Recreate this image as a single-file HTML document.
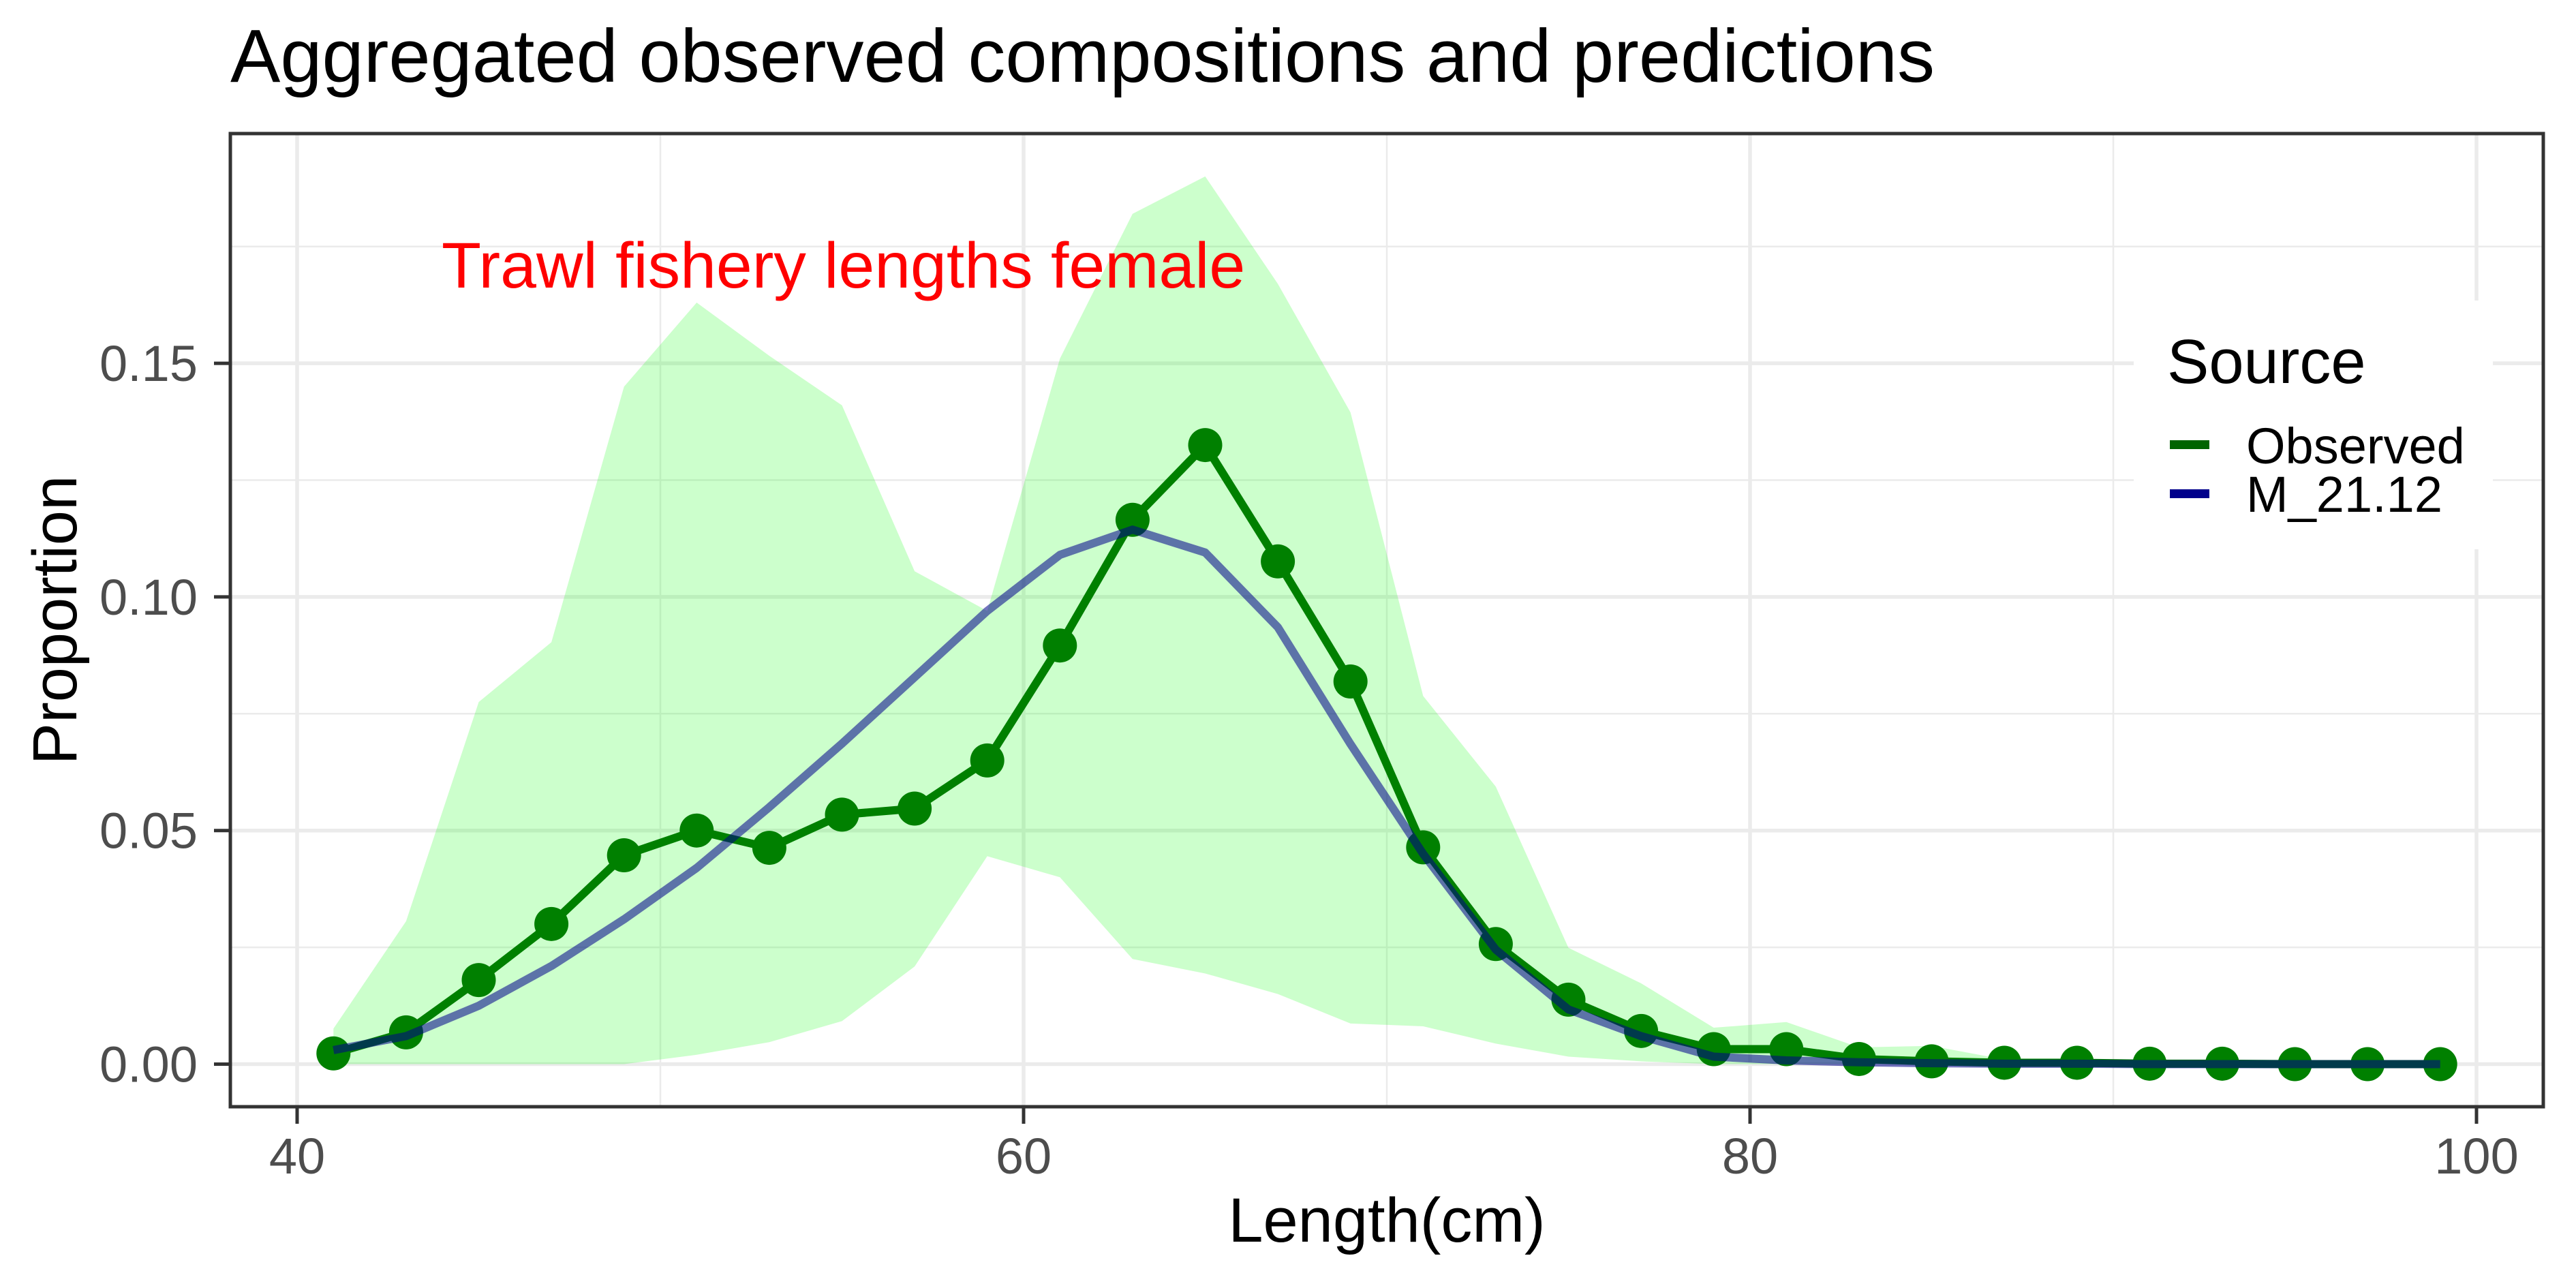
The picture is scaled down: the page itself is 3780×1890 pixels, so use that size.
<!DOCTYPE html>
<html><head><meta charset="utf-8"><style>
html,body{margin:0;padding:0;background:#fff;}
svg{display:block;font-family:"Liberation Sans",Arial,sans-serif;}
</style></head><body>
<svg id="chart" width="3780" height="1890" viewBox="0 0 3780 1890">
<rect x="0" y="0" width="3780" height="1890" fill="#fff"/>
<g id="grid"></g>
<g id="ribbon-g"></g>
<g id="obs-g"></g>
<g id="model-g"></g>
<rect x="338" y="196" width="3394" height="1428" fill="none" stroke="#333" stroke-width="5"/>
<g id="axes"></g>
<text x="338" y="120" font-size="110" fill="#000">Aggregated observed compositions and predictions</text>
<text x="648" y="422" font-size="95" fill="#ff0000">Trawl fishery lengths female</text>
<text x="2035" y="1822" font-size="92" text-anchor="middle" fill="#000">Length(cm)</text>
<text x="0" y="0" font-size="92" text-anchor="middle" fill="#000" transform="translate(112,910) rotate(-90)">Proportion</text>
<g>
<rect x="3131" y="441" width="527" height="365" fill="#fff"/>
<text x="3180" y="562" font-size="92" fill="#000">Source</text>
<rect x="3184" y="646" width="58" height="13" fill="#006400"/>
<text x="3296" y="680" font-size="74" fill="#000">Observed</text>
<rect x="3184" y="718" width="58" height="13" fill="#00008b"/>
<text x="3296" y="751" font-size="74" fill="#000">M_21.12</text>
</g>
</svg>
<script>
const lengths=[41,43,45,47,49,51,53,55,57,59,61,63,65,67,69,71,73,75,77,79,81,83,85,87,89,91,93,95,97,99];
const observed=[0.0023,0.0068,0.018,0.030,0.0447,0.050,0.0463,0.0534,0.0547,0.065,0.0896,0.1165,0.1325,0.1076,0.0819,0.0464,0.0257,0.0138,0.0071,0.0032,0.0032,0.0011,0.0006,0.0003,0.0003,0.0001,0.0001,0,0,0];
const model=[0.003,0.006,0.0125,0.021,0.031,0.042,0.055,0.0686,0.0828,0.097,0.109,0.1144,0.1095,0.0935,0.0685,0.045,0.0245,0.0117,0.006,0.0016,0.0008,0.0004,0.0002,0.0001,0.0001,0,0,0,0,0];
const ribbonUpper=[0.0076,0.0306,0.0775,0.0903,0.145,0.163,0.1516,0.141,0.1055,0.097,0.151,0.182,0.190,0.167,0.1395,0.0788,0.0594,0.0249,0.0173,0.0078,0.009,0.0036,0.0039,0.001,0.0005,0.0003,0.0002,0.0001,0.0001,0];
const ribbonLower=[0,0,0,0,0,0.002,0.0047,0.0092,0.0209,0.0445,0.040,0.0225,0.0194,0.015,0.0087,0.0081,0.0044,0.0016,0.0006,0,0,0,0,0,0,0,0,0,0,0];
const xTicks=[40,60,80,100];
const xMinor=[50,70,90];
const yTicks=[0,0.05,0.10,0.15];
const yTickLabels=["0.00","0.05","0.10","0.15"];
const yMinor=[0.025,0.075,0.125,0.175];

const NS="http://www.w3.org/2000/svg";
const PL=338,PR=3732,PT=196,PB=1624;
function xs(v){return 436+(v-40)*53.3;}
function ys(v){return 1561.5-v*6856;}
function mk(tag,attrs,parent){const e=document.createElementNS(NS,tag);for(const k in attrs)e.setAttribute(k,attrs[k]);parent.appendChild(e);return e;}

const grid=document.getElementById('grid');
yMinor.forEach(v=>{const l=mk('line',{x1:PL,x2:PR,y1:ys(v),y2:ys(v),stroke:'#ebebeb','stroke-width':2.5},grid);

});
xMinor.forEach(v=>{const l=mk('line',{x1:xs(v),x2:xs(v),y1:PT,y2:PB,stroke:'#ebebeb','stroke-width':2.5},grid);

});
yTicks.forEach(v=>{const l=mk('line',{x1:PL,x2:PR,y1:ys(v),y2:ys(v),stroke:'#ebebeb','stroke-width':5.5},grid);

});
xTicks.forEach(v=>{const l=mk('line',{x1:xs(v),x2:xs(v),y1:PT,y2:PB,stroke:'#ebebeb','stroke-width':5.5},grid);

});

const rg=document.getElementById('ribbon-g');
let d='';
lengths.forEach((x,i)=>{d+=(i?'L':'M')+xs(x)+','+ys(ribbonUpper[i]);});
for(let i=lengths.length-1;i>=0;i--){d+='L'+xs(lengths[i])+','+ys(ribbonLower[i]);}
const rib=mk('path',{d:d+'Z',fill:'#00ff00','fill-opacity':0.2},rg);



const og=document.getElementById('obs-g');
const op=mk('polyline',{points:lengths.map((x,i)=>xs(x)+','+ys(observed[i])).join(' '),fill:'none',stroke:'#008000','stroke-width':12,'stroke-linejoin':'round'},og);


lengths.forEach((x,i)=>{const c=mk('circle',{cx:xs(x),cy:ys(observed[i]),r:25,fill:'#008000'},og);

});

const mg=document.getElementById('model-g');
const mp=mk('polyline',{points:lengths.map((x,i)=>xs(x)+','+ys(model[i])).join(' '),fill:'none',stroke:'#00008b','stroke-opacity':0.55,'stroke-width':12,'stroke-linejoin':'round'},mg);



const ax=document.getElementById('axes');
yTicks.forEach((v,i)=>{
const t=mk('line',{x1:PL-24,x2:PL,y1:ys(v),y2:ys(v),stroke:'#333','stroke-width':5},ax);


const tx=mk('text',{x:290,y:ys(v)+26,'font-size':74,'text-anchor':'end',fill:'#4d4d4d'},ax);
tx.textContent=yTickLabels[i];

});
xTicks.forEach(v=>{
const t=mk('line',{x1:xs(v),x2:xs(v),y1:PB,y2:PB+25,stroke:'#333','stroke-width':5},ax);


const tx=mk('text',{x:xs(v),y:1722,'font-size':74,'text-anchor':'middle',fill:'#4d4d4d'},ax);
tx.textContent=String(v);

});
</script>
</body></html>
